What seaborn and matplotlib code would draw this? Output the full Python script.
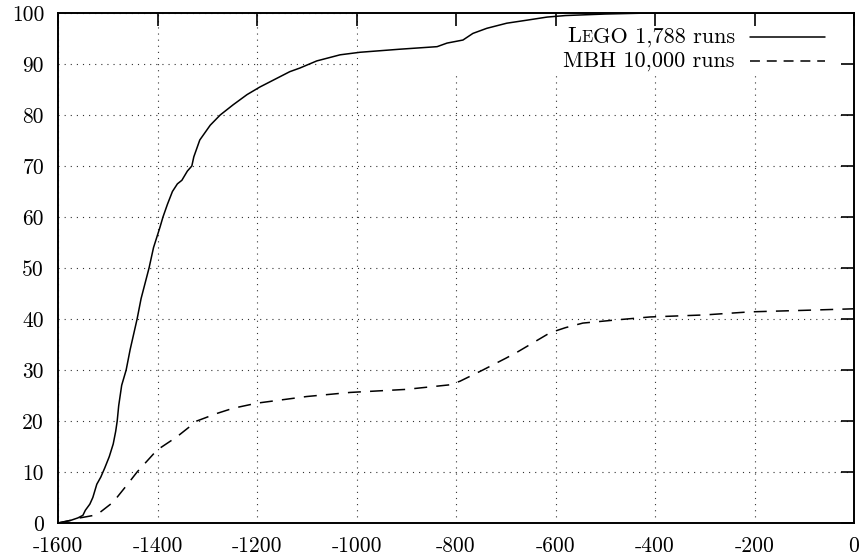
import matplotlib
matplotlib.use("Agg")
import matplotlib.pyplot as plt
import seaborn as sns
from matplotlib.path import Path
from matplotlib.lines import Line2D
from matplotlib.offsetbox import TextArea, HPacker, VPacker, DrawingArea, AnchoredOffsetbox

# Cumulative success (%) against target energy
lego_x = [-1600, -1590, -1575, -1560, -1550, -1545, -1536, -1530, -1522, -1514,
          -1506, -1497, -1489, -1484, -1481, -1478, -1472, -1463, -1455, -1448,
          -1441, -1433, -1425, -1417, -1408, -1395, -1389, -1380, -1370, -1360,
          -1351, -1340, -1331, -1327, -1315, -1294, -1274, -1248, -1220, -1194,
          -1154, -1134, -1114, -1080, -1033, -993, -913, -838, -818, -786,
          -766, -738, -698, -657, -617, -580, -500, -410, 0]
lego_y = [0.0, 0.2, 0.5, 1.0, 1.5, 2.5, 3.7, 5.0, 7.6, 9.0,
          10.8, 13.0, 15.5, 18.0, 20.0, 23.0, 27.0, 30.0, 34.0, 37.0,
          40.0, 44.0, 47.0, 50.0, 54.0, 58.0, 60.0, 62.5, 65.0, 66.5,
          67.2, 69.0, 70.0, 71.8, 75.1, 78.0, 80.0, 82.0, 84.0, 85.5,
          87.5, 88.5, 89.2, 90.6, 91.8, 92.3, 92.9, 93.4, 94.1, 94.7,
          96.0, 97.0, 98.0, 98.6, 99.2, 99.5, 99.8, 100.0, 100.0]

mbh_x = [-1600, -1580, -1556, -1522, -1489, -1461, -1441, -1401, -1361, -1321,
         -1280, -1248, -1200, -1100, -1013, -900, -812, -792, -746, -700,
         -677, -611, -580, -545, -480, -410, -300, -209, -100, 0]
mbh_y = [0.0, 0.4, 1.0, 1.6, 4.1, 7.5, 10.0, 14.3, 16.9, 20.0,
         21.5, 22.5, 23.5, 24.8, 25.6, 26.2, 27.1, 27.8, 30.0, 32.3,
         33.5, 37.3, 38.3, 39.2, 39.8, 40.4, 40.8, 41.4, 41.7, 42.0]

x_ticks = [-1600, -1400, -1200, -1000, -800, -600, -400, -200, 0]
x_tick_labels = ["-1600", "-1400", "-1200", "-1000", "-800", "-600", "-400", "-200", "0"]
y_ticks = [0, 10, 20, 30, 40, 50, 60, 70, 80, 90, 100]
y_tick_labels = ["0", "10", "20", "30", "40", "50", "60", "70", "80", "90", "100"]

sns.set_theme(style="white")
FONT = "cmr10"
plt.rcParams["font.family"] = [FONT, "DejaVu Serif"]
FS = 15.5
KEY_FS = 16

fig = plt.figure(figsize=(8.64, 5.6), dpi=100)
ax = fig.add_axes([58 / 864, 1 - 523 / 560, 796 / 864, 510 / 560])

sns.lineplot(x=lego_x, y=lego_y, ax=ax, color="black", lw=1.1,
             estimator=None, sort=False, zorder=3)
sns.lineplot(x=mbh_x, y=mbh_y, ax=ax, color="black", lw=1.1,
             linestyle=(0, (8.5, 6)), estimator=None, sort=False, zorder=3)

ax.set_xlim(-1600, 0)
ax.set_ylim(0, 100)
ax.set_xticks(x_ticks)
ax.set_xticklabels(x_tick_labels)
ax.set_yticks(y_ticks)
ax.set_yticklabels(y_tick_labels)
ax.set_xlabel("")
ax.set_ylabel("")

ax.tick_params(direction="in", length=9.4, width=1.2, top=True, right=True,
               labelsize=FS, colors="black")
ax.tick_params(axis="y", pad=10)
ax.tick_params(axis="x", pad=10)
for sp in ax.spines.values():
    sp.set_visible(True)
    sp.set_color("black")
    sp.set_linewidth(1.4)

ax.set_axisbelow(True)
ax.grid(True, color="0.2", lw=0.8, linestyle=(0, (1, 4.5)))

# keep the key area free of grid lines
kx0, ky0 = 0.377, 0.878
hole = Path(
    [(0, 0), (1, 0), (1, 1), (0, 1), (0, 0),
     (kx0, ky0), (kx0, 1), (1, 1), (1, ky0), (kx0, ky0)],
    [Path.MOVETO, Path.LINETO, Path.LINETO, Path.LINETO, Path.CLOSEPOLY,
     Path.MOVETO, Path.LINETO, Path.LINETO, Path.LINETO, Path.CLOSEPOLY])
for gl in ax.get_xgridlines() + ax.get_ygridlines():
    gl.set_clip_path(hole, ax.transAxes)


def part(s, size):
    return TextArea(s, textprops=dict(fontsize=size, family=FONT, color="black"))


def sample(ls):
    da = DrawingArea(54, 10, 0, 0)
    da.add_artist(Line2D([0, 54], [5, 5], color="black", lw=1.1, linestyle=ls))
    return da


lego_label = HPacker(children=[part("L", KEY_FS), part("E", KEY_FS * 0.75),
                               part("GO 1,788 runs", KEY_FS)],
                     pad=0, sep=0, align="baseline")
mbh_label = part("MBH 10,000 runs", KEY_FS)
row1 = HPacker(children=[lego_label, sample("-")], pad=0, sep=11, align="center")
row2 = HPacker(children=[mbh_label, sample((0, (6.5, 4.5)))], pad=0, sep=11, align="center")
key = VPacker(children=[row1, row2], pad=0, sep=3, align="right")
anchored = AnchoredOffsetbox(loc="upper right", child=key, pad=0, borderpad=0,
                             frameon=False, bbox_to_anchor=(0.9636, 0.973),
                             bbox_transform=ax.transAxes)
ax.add_artist(anchored)

fig.savefig("out.png", dpi=100)
